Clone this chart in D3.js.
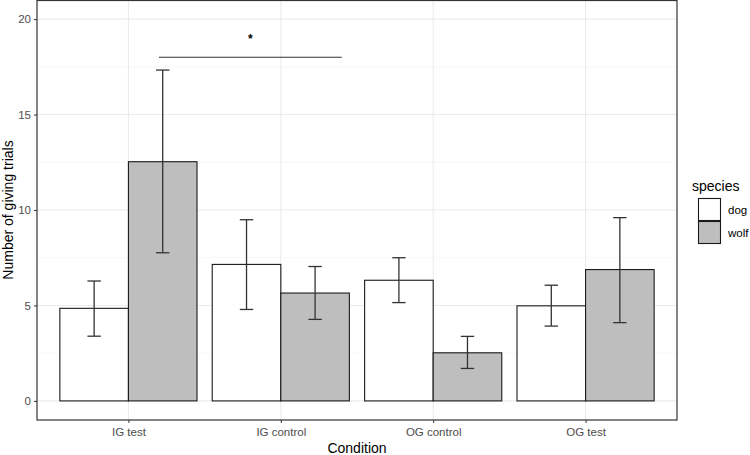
<!DOCTYPE html>
<html>
<head>
<meta charset="utf-8">
<script src="https://cdn.jsdelivr.net/npm/d3@7"></script>
<style>
  body { margin: 0; background: #fff; }
  svg { display: block; font-family: "Liberation Sans", Arial, sans-serif; }
</style>
</head>
<body>
<svg id="chart" width="750" height="455"></svg>
<script>
// data
var conditions = ['IG test', 'IG control', 'OG control', 'OG test'];
var species = ['dog', 'wolf'];
var dogMean = [4.85, 7.15, 6.32, 4.98];
var dogLow  = [3.39, 4.79, 5.15, 3.92];
var dogHigh = [6.28, 9.49, 7.5, 6.06];
var wolfMean = [12.53, 5.65, 2.52, 6.88];
var wolfLow  = [7.76, 4.27, 1.7, 4.1];
var wolfHigh = [17.33, 7.04, 3.38, 9.6];
var yTicks = [0, 5, 10, 15, 20];
var yMinor = [2.5, 7.5, 12.5, 17.5];
// significance bracket in category units (1 = first condition)
var sig = {x1: 1.2, x2: 2.4, y: 18, labelY: 19, label: '*'};

var fills = {dog: '#ffffff', wolf: '#bebebe'};

var rows = [];
conditions.forEach(function(c, i) {
    rows.push({cond: c, sp: 'dog', mean: dogMean[i], lo: dogLow[i], hi: dogHigh[i]});
    rows.push({cond: c, sp: 'wolf', mean: wolfMean[i], lo: wolfLow[i], hi: wolfHigh[i]});
});

var svg = d3.select('#chart');
var pLeft = 37, pRight = 677, pTop = 0, pBottom = 420;

// ggplot-like discrete expansion: 0.6 of a step on each side
var step = (pRight - pLeft) / (conditions.length - 1 + 1.2);
var x = d3.scalePoint()
    .domain(conditions)
    .range([pLeft + 0.6 * step, pRight - 0.6 * step]);
// same axis as a continuous scale, for annotations
var xNum = d3.scaleLinear()
    .domain([1, conditions.length])
    .range(x.range());
var y = d3.scaleLinear()
    .domain([-1, 21])
    .range([pBottom, pTop]);

var barW = step * 0.45;
var xs = d3.scaleBand().domain(species).range([-barW, barW]);

var g = svg.append('g');

// grid
g.selectAll('.minor').data(yMinor).enter().append('line')
    .attr('x1', pLeft).attr('x2', pRight)
    .attr('y1', d => y(d)).attr('y2', d => y(d))
    .attr('stroke', '#f2f2f2').attr('stroke-width', 0.6);
g.selectAll('.major').data(yTicks).enter().append('line')
    .attr('x1', pLeft).attr('x2', pRight)
    .attr('y1', d => y(d)).attr('y2', d => y(d))
    .attr('stroke', '#ebebeb').attr('stroke-width', 1.1);
g.selectAll('.vmajor').data(conditions).enter().append('line')
    .attr('x1', d => x(d)).attr('x2', d => x(d))
    .attr('y1', pTop).attr('y2', pBottom)
    .attr('stroke', '#ebebeb').attr('stroke-width', 1.1);

// bars
g.selectAll('.bar').data(rows).enter().append('rect')
    .attr('x', d => x(d.cond) + xs(d.sp))
    .attr('width', xs.bandwidth())
    .attr('y', d => y(d.mean))
    .attr('height', d => y(0) - y(d.mean))
    .attr('fill', d => fills[d.sp])
    .attr('stroke', '#1a1a1a').attr('stroke-width', 1.1);

// error bars
var capW = 6.7;
var eb = g.selectAll('.eb').data(rows).enter().append('g')
    .attr('transform', d => 'translate(' + (x(d.cond) + xs(d.sp) + xs.bandwidth() / 2) + ',0)');
eb.append('line').attr('x1', 0).attr('x2', 0)
    .attr('y1', d => y(d.lo)).attr('y2', d => y(d.hi));
eb.append('line').attr('x1', -capW).attr('x2', capW)
    .attr('y1', d => y(d.lo)).attr('y2', d => y(d.lo));
eb.append('line').attr('x1', -capW).attr('x2', capW)
    .attr('y1', d => y(d.hi)).attr('y2', d => y(d.hi));
eb.selectAll('line').attr('stroke', '#333').attr('stroke-width', 1.3);

// significance bracket
g.append('line')
    .attr('x1', xNum(sig.x1)).attr('x2', xNum(sig.x2))
    .attr('y1', y(sig.y)).attr('y2', y(sig.y))
    .attr('stroke', '#333').attr('stroke-width', 1.2);
g.append('text')
    .attr('x', xNum((sig.x1 + sig.x2) / 2)).attr('y', y(sig.labelY) + 5)
    .attr('text-anchor', 'middle')
    .attr('font-size', 12).attr('font-weight', 'bold')
    .text(sig.label);

// panel border
g.append('rect')
    .attr('x', pLeft).attr('y', pTop + 0.5)
    .attr('width', pRight - pLeft).attr('height', pBottom - pTop - 0.5)
    .attr('fill', 'none').attr('stroke', '#333').attr('stroke-width', 1.2);

// axes
var yAxis = d3.axisLeft(y).tickValues(yTicks).tickSize(3).tickPadding(3);
svg.append('g').attr('transform', 'translate(' + pLeft + ',0)').call(yAxis)
    .call(a => a.select('.domain').remove())
    .call(a => a.selectAll('line').attr('stroke', '#333'))
    .call(a => a.selectAll('text').attr('fill', '#4d4d4d').attr('font-size', 11.5)
        .style('font-family', '"Liberation Sans", Arial, sans-serif'));

var xAxis = d3.axisBottom(x).tickSize(3).tickPadding(5);
svg.append('g').attr('transform', 'translate(0,' + pBottom + ')').call(xAxis)
    .call(a => a.select('.domain').remove())
    .call(a => a.selectAll('line').attr('stroke', '#333'))
    .call(a => a.selectAll('text').attr('fill', '#4d4d4d').attr('font-size', 11.5)
        .style('font-family', '"Liberation Sans", Arial, sans-serif'));

// axis titles
svg.append('text')
    .attr('x', (pLeft + pRight) / 2).attr('y', 453)
    .attr('text-anchor', 'middle').attr('font-size', 14).attr('fill', '#000')
    .text('Condition');
svg.append('text')
    .attr('transform', 'translate(13,' + (pTop + pBottom) / 2 + ') rotate(-90)')
    .attr('text-anchor', 'middle').attr('font-size', 14).attr('fill', '#000')
    .text('Number of giving trials');

// legend
var lg = svg.append('g').attr('transform', 'translate(698,198)');
lg.append('text').attr('x', -6).attr('y', -7)
    .attr('font-size', 14).attr('fill', '#000').text('species');
var keys = lg.selectAll('.key').data(species).enter().append('g')
    .attr('transform', (d, i) => 'translate(0,' + i * 23 + ')');
keys.append('rect')
    .attr('x', 0.5).attr('y', 0.5).attr('width', 22).attr('height', 22)
    .attr('fill', d => fills[d]).attr('stroke', '#1a1a1a').attr('stroke-width', 1.1);
keys.append('text')
    .attr('x', 30).attr('y', 11.5).attr('dy', '0.35em')
    .attr('font-size', 11.5).attr('fill', '#000')
    .text(d => d);
</script>
</body>
</html>
